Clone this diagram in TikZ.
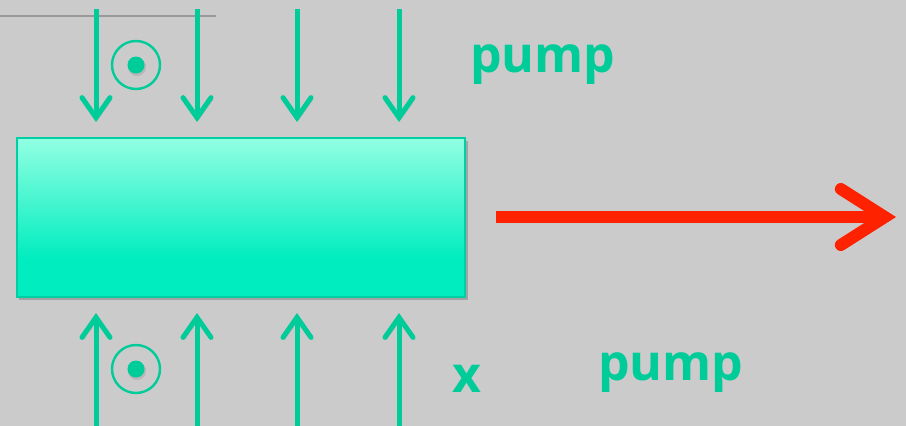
\documentclass[tikz,border=0pt]{standalone}
\usepackage{fontspec}
\setmainfont{Open Sans}
\usetikzlibrary{arrows.meta}
\definecolor{bg}{HTML}{CBCBCB}
\definecolor{teal}{HTML}{00CC99}
\definecolor{boxtop}{HTML}{92FFE2}
\definecolor{boxbot}{HTML}{00EDBF}
\definecolor{boxedge}{HTML}{00CFA4}
\definecolor{beam}{HTML}{FF2200}
\pgfdeclareverticalshading{boxfill}{100bp}{color(0bp)=(boxbot); color(37bp)=(boxbot); color(75bp)=(boxtop); color(100bp)=(boxtop)}
\tikzset{
  soft shadow/.style={preaction={draw=black, opacity=.14, transform canvas={shift={(1.5pt,-2.5pt)}}}},
  pumpflow/.style={draw=teal, line width=5pt, soft shadow,
    -{Straight Barb[length=20pt, width=28pt, line width=5pt, line cap=round, line join=miter]}},
  beamflow/.style={draw=beam, line width=12pt, soft shadow,
    -{Straight Barb[length=44pt, width=56pt, line width=12pt, line cap=round, line join=miter]}},
  label/.style={text=teal, font=\bfseries\fontsize{50}{50}\selectfont, inner sep=0pt, anchor=base west},
  ring/.style={draw=teal, line width=2.4pt, fill=none},
  dotc/.style={fill=teal},
}
\begin{document}
\begin{tikzpicture}[x=1pt, y=-1pt]
  % canvas
  \fill[bg] (0,0) rectangle (906,426);
  \useasboundingbox (0,0) rectangle (906,426);

  % stray rule in the upper left corner
  \draw[draw=gray!80, line width=1.5pt] (0,16) -- (216,16);

  % gain medium
  \fill[black, opacity=.2] (19,141) rectangle (468,300);
  \node[draw=boxedge, line width=2pt, shading=boxfill, minimum width=448pt, minimum height=159pt,
        inner sep=0pt, anchor=north west] (crystal) at (16,137) {};

  % pump arrows from above and below
  \foreach \i/\x in {1/96, 2/197, 3/297, 4/399} {
    \coordinate (ts\i) at (\x,9);
    \coordinate (te\i) at (\x,122);
    \coordinate (bs\i) at (\x,430);
    \coordinate (be\i) at (\x,313);
    \draw[pumpflow] (ts\i) -- (te\i);
    \draw[pumpflow] (bs\i) -- (be\i);
  }

  % out-of-plane markers
  \foreach \n/\y in {top/65, bot/369} {
    \fill[black, opacity=.1] (137,\y+2) circle (9pt);
    \draw[ring] (136,\y) circle (24pt);
    \fill[dotc] (136,\y) circle (8.5pt);
  }

  % output beam
  \coordinate (beamstart) at (496,217);
  \coordinate (beamend) at (896,217);
  \draw[beamflow] (beamstart) -- (beamend);

  % labels
  \node[label] (ptop) at (470,72) {pump};
  \node[label] (pbot) at (598,380) {pump};
  \node[label] (xlab) at (452,392) {x};
\end{tikzpicture}
\end{document}
